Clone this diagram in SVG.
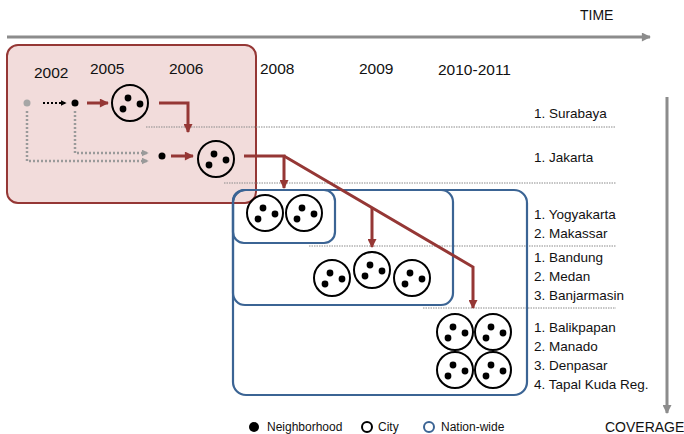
<svg xmlns="http://www.w3.org/2000/svg" xmlns:xlink="http://www.w3.org/1999/xlink" width="684" height="434" viewBox="0 0 684 434">
<style>
  text { font-family: "Liberation Sans", Arial, sans-serif; fill: #111; }
  .year { font-size: 15.5px; }
  .lbl { font-size: 13.5px; }
  .axis { font-size: 14px; }
  .leg { font-size: 12px; }
  .sep { stroke: #8a8a8a; stroke-width: 1; stroke-dasharray: 1.5 1; fill: none; }
  .red { stroke: #953735; stroke-width: 3; fill: none; }
  .gdot { stroke: #9a9a9a; stroke-width: 2.5; stroke-dasharray: 2 2; fill: none; }
  .blue { stroke: #3b6494; stroke-width: 2.2; fill: none; }
  .city { stroke: #000; stroke-width: 2; fill: none; }
</style>
<defs>
  <marker id="ahRed" viewBox="0 0 10 10" markerUnits="userSpaceOnUse" markerWidth="10" markerHeight="9" refX="9" refY="5" orient="auto">
    <path d="M0,0 L10,5 L0,10 z" fill="#953735"/>
  </marker>
  <marker id="ahGray" viewBox="0 0 10 10" markerUnits="userSpaceOnUse" markerWidth="7" markerHeight="7" refX="9" refY="5" orient="auto">
    <path d="M0,0 L10,5 L0,10 z" fill="#9a9a9a"/>
  </marker>
  <marker id="ahBlack" viewBox="0 0 10 10" markerUnits="userSpaceOnUse" markerWidth="6" markerHeight="6" refX="9" refY="5" orient="auto">
    <path d="M0,0 L10,5 L0,10 z" fill="#000"/>
  </marker>
  <marker id="ahAxis" viewBox="0 0 10 10" markerUnits="userSpaceOnUse" markerWidth="10" markerHeight="9" refX="9" refY="5" orient="auto">
    <path d="M0,0 L10,5 L0,10 z" fill="#8c8c8c"/>
  </marker>
  <g id="cityIcon">
    <circle r="18" class="city"/>
    <circle cx="-2" cy="-5" r="3.4" fill="#000"/>
    <circle cx="10" cy="1" r="3.4" fill="#000"/>
    <circle cx="-7" cy="6" r="3.4" fill="#000"/>
  </g>
</defs>

<!-- axes -->
<g id="time-axis">
  <line x1="7" y1="37" x2="650" y2="37" stroke="#8c8c8c" stroke-width="3" marker-end="url(#ahAxis)"/>
  <text class="axis" x="580" y="20">TIME</text>
</g>
<g id="coverage-axis">
  <line x1="667" y1="97" x2="667" y2="413" stroke="#8c8c8c" stroke-width="3" marker-end="url(#ahAxis)"/>
  <text class="axis" x="605" y="432">COVERAGE</text>
</g>

<!-- pilot phase box -->
<g id="pilot-phase">
  <rect x="7" y="45" width="249" height="158" rx="11" fill="#f2dcdb" stroke="#953735" stroke-width="2"/>
</g>

<!-- separators -->
<g id="separators">
  <line class="sep" x1="146" y1="127" x2="616" y2="127"/>
  <line class="sep" x1="224" y1="183" x2="616" y2="183"/>
  <line class="sep" x1="309" y1="246" x2="616" y2="246"/>
  <line class="sep" x1="423" y1="308" x2="616" y2="308"/>
</g>

<!-- years -->
<g id="years">
  <text class="year" x="34" y="78">2002</text>
  <text class="year" x="90" y="74">2005</text>
  <text class="year" x="169" y="74">2006</text>
  <text class="year" x="260" y="74">2008</text>
  <text class="year" x="359" y="74">2009</text>
  <text class="year" x="438" y="75">2010-2011</text>
</g>

<!-- nation-wide boxes -->
<g id="nation-wide-2008">
  <rect class="blue" x="233" y="190" width="102" height="53" rx="11"/>
</g>
<g id="nation-wide-2009">
  <rect class="blue" x="233" y="190" width="220" height="115" rx="12"/>
</g>
<g id="nation-wide-2010">
  <rect class="blue" x="233" y="190" width="294" height="205" rx="13"/>
</g>

<!-- neighborhood nodes -->
<g id="nb-2002"><circle cx="27" cy="103" r="3.5" fill="#a6a6a6"/></g>
<g id="nb-2005"><circle cx="75" cy="103" r="3.5" fill="#000"/></g>
<g id="nb-2006"><circle cx="162" cy="156" r="3.5" fill="#000"/></g>

<!-- city nodes -->
<g id="city-surabaya"><use xlink:href="#cityIcon" x="130" y="103"/></g>
<g id="city-jakarta"><use xlink:href="#cityIcon" x="216" y="159"/></g>
<g id="city-yogyakarta"><use xlink:href="#cityIcon" x="265" y="213"/></g>
<g id="city-makassar"><use xlink:href="#cityIcon" x="304" y="213"/></g>
<g id="city-bandung"><use xlink:href="#cityIcon" x="332" y="278"/></g>
<g id="city-medan"><use xlink:href="#cityIcon" x="372" y="270"/></g>
<g id="city-banjarmasin"><use xlink:href="#cityIcon" x="412" y="278"/></g>
<g id="city-balikpapan"><use xlink:href="#cityIcon" x="455" y="332"/></g>
<g id="city-manado"><use xlink:href="#cityIcon" x="493" y="332"/></g>
<g id="city-denpasar"><use xlink:href="#cityIcon" x="455" y="370"/></g>
<g id="city-tapalkuda"><use xlink:href="#cityIcon" x="493" y="370"/></g>

<!-- connectors -->
<g id="connectors">
  <line x1="43" y1="103" x2="66" y2="103" stroke="#000" stroke-width="2" stroke-dasharray="2 2" marker-end="url(#ahBlack)"/>
  <path class="gdot" d="M27,111 V161 H148" marker-end="url(#ahGray)"/>
  <path class="gdot" d="M75,111 V153 H148" marker-end="url(#ahGray)"/>
  <line class="red" x1="87" y1="103" x2="108" y2="103" marker-end="url(#ahRed)"/>
  <line class="red" x1="171" y1="156" x2="193" y2="156" marker-end="url(#ahRed)"/>
  <path class="red" d="M159,103 H188 V132" marker-end="url(#ahRed)"/>
  <path class="red" d="M244,156 H284 V188" marker-end="url(#ahRed)"/>
  <path class="red" d="M284,156 L473,267 V308" marker-end="url(#ahRed)"/>
  <line class="red" x1="372" y1="208" x2="372" y2="247" marker-end="url(#ahRed)"/>
</g>

<!-- coverage labels -->
<g id="coverage-labels">
  <text class="lbl" x="534" y="118">1. Surabaya</text>
  <text class="lbl" x="534" y="162">1. Jakarta</text>
  <text class="lbl" x="534" y="219">1. Yogyakarta</text>
  <text class="lbl" x="534" y="238">2. Makassar</text>
  <text class="lbl" x="534" y="262">1. Bandung</text>
  <text class="lbl" x="534" y="281">2. Medan</text>
  <text class="lbl" x="534" y="300">3. Banjarmasin</text>
  <text class="lbl" x="534" y="332">1. Balikpapan</text>
  <text class="lbl" x="534" y="351">2. Manado</text>
  <text class="lbl" x="534" y="370">3. Denpasar</text>
  <text class="lbl" x="534" y="389">4. Tapal Kuda Reg.</text>
</g>

<!-- legend -->
<g id="legend">
  <circle cx="254" cy="427" r="5" fill="#000"/>
  <text class="leg" x="267" y="431">Neighborhood</text>
  <circle cx="367" cy="427" r="5" fill="none" stroke="#000" stroke-width="2"/>
  <text class="leg" x="378" y="431">City</text>
  <circle cx="429" cy="427" r="5" fill="none" stroke="#3b6494" stroke-width="2"/>
  <text class="leg" x="441" y="431">Nation-wide</text>
</g>
</svg>
